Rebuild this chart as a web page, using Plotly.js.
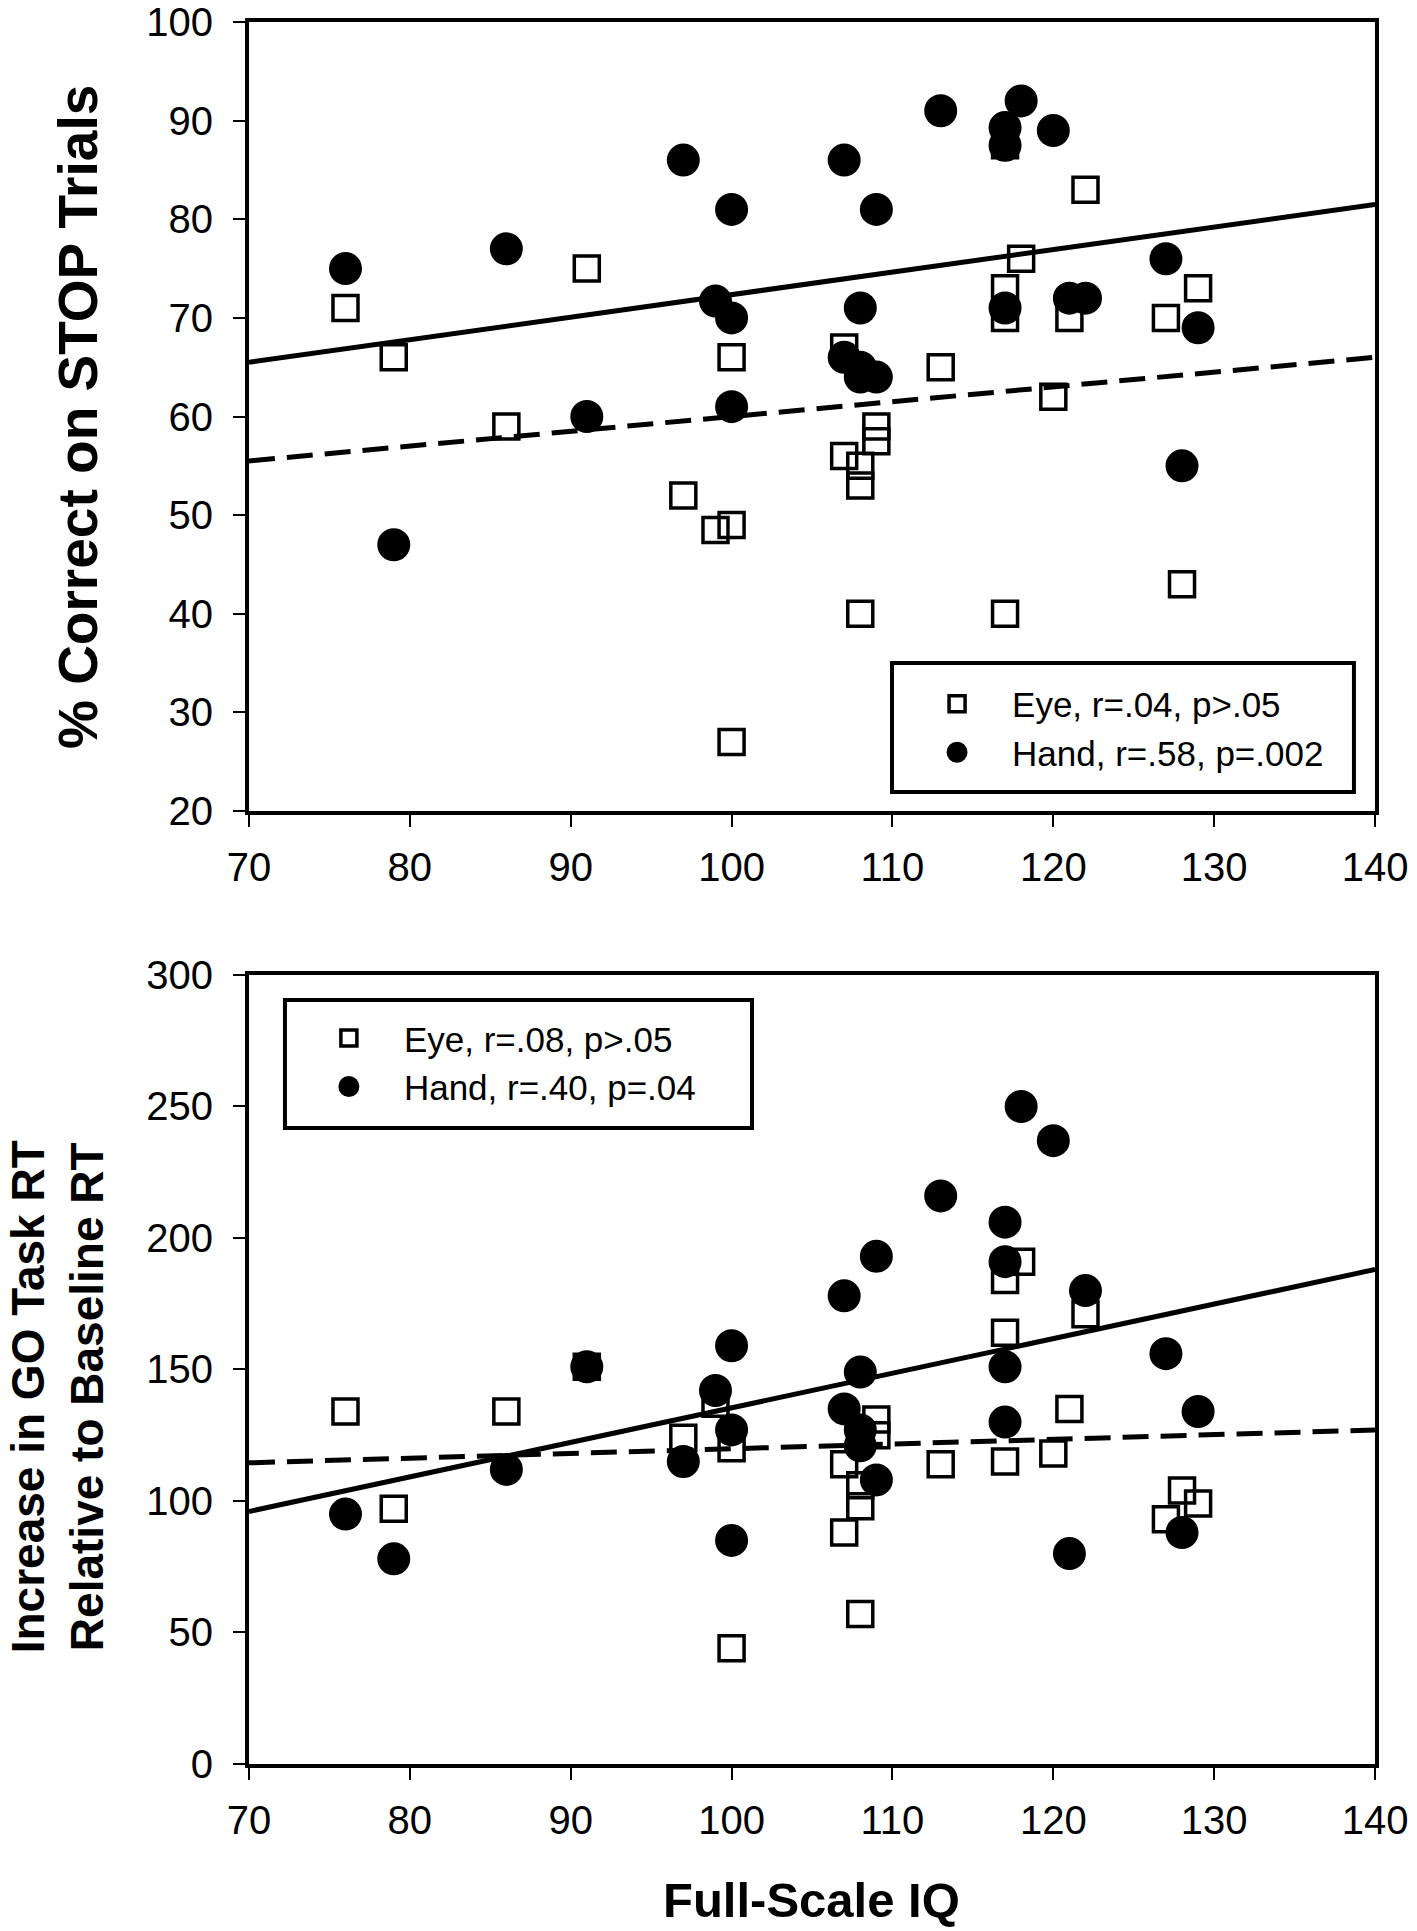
<!DOCTYPE html>
<html>
<head>
<meta charset="utf-8">
<script src="https://cdn.plot.ly/plotly-3.0.1.min.js"></script>
<style>
  body { margin: 0; background: #fff; }
  #chart { width: 1417px; height: 1931px; }
</style>
</head>
<body>
<div id="chart"></div>
<script>
// top panel: % correct on STOP trials
var eyeStopIQ = [76, 79, 86, 91, 97, 99, 100, 100, 100, 107, 107, 108, 108, 108, 109, 109, 113, 117, 117, 117, 117, 118, 120, 121, 122, 127, 128, 129];
var eyeStop = [71, 66, 59, 75, 52, 48.5, 49, 66, 27, 67, 56, 55, 53, 40, 59, 57.5, 65, 87.5, 73, 70, 40, 76, 62, 70, 83, 70, 43, 73];
var handStopIQ = [76, 79, 86, 91, 97, 99, 100, 100, 100, 107, 107, 108, 108, 108, 109, 109, 113, 117, 117, 117, 118, 120, 121, 122, 127, 128, 129];
var handStop = [75, 47, 77, 60, 86, 71.7, 81, 70, 61, 86, 66, 71, 65, 64, 81, 64, 91, 89.3, 87.5, 71, 92, 89, 72, 72, 76, 55, 69];

// bottom panel: increase in GO task RT
var eyeGoIQ = [76, 79, 86, 91, 97, 99, 100, 100, 107, 107, 108, 108, 108, 109, 109, 113, 117, 117, 117, 118, 120, 121, 122, 127, 128, 129];
var eyeGo = [134, 97, 134, 151, 124, 137, 120, 44, 114, 88, 106, 98, 57, 131, 125, 114, 184, 164, 115, 191, 118, 135, 171, 93, 104, 99];
var handGoIQ = [76, 79, 86, 91, 97, 99, 100, 100, 100, 107, 107, 108, 108, 108, 109, 109, 113, 117, 117, 117, 117, 118, 120, 121, 122, 127, 128, 129];
var handGo = [95, 78, 112, 151, 115, 142, 159, 127, 85, 178, 135, 149, 127, 121, 193, 108, 216, 206, 191, 151, 130, 250, 237, 80, 180, 156, 88, 134];

// regression lines (read at the ends of the x range)
var fitIQ = [70, 140];
var eyeStopFit = [55.5, 66];
var handStopFit = [65.5, 81.5];
var eyeGoFit = [114.5, 127];
var handGoFit = [96, 188];

var eyeStopLabel = 'Eye, r=.04, p>.05';
var handStopLabel = 'Hand, r=.58, p=.002';
var eyeGoLabel = 'Eye, r=.08, p>.05';
var handGoLabel = 'Hand, r=.40, p=.04';

var FONT = 'Liberation Sans, Arial, sans-serif';

var squareMarker = {
    symbol: 'square-open',
    size: 25,
    color: '#000',
    line: { color: '#000', width: 3.5 }
};
// thick outline so the legend symbol (size capped) stays close to the plotted dot
var circleMarker = {
    symbol: 'circle',
    size: 28,
    color: '#000',
    line: { color: '#000', width: 5 }
};

var traces = [
    { x: fitIQ, y: eyeStopFit, mode: 'lines', xaxis: 'x', yaxis: 'y', showlegend: false,
      line: { color: '#000', width: 5, dash: '26px,12px' }, hoverinfo: 'skip' },
    { x: fitIQ, y: handStopFit, mode: 'lines', xaxis: 'x', yaxis: 'y', showlegend: false,
      line: { color: '#000', width: 5 }, hoverinfo: 'skip' },
    { x: eyeStopIQ, y: eyeStop, mode: 'markers', name: eyeStopLabel, xaxis: 'x', yaxis: 'y',
      marker: squareMarker, legend: 'legend' },
    { x: handStopIQ, y: handStop, mode: 'markers', name: handStopLabel, xaxis: 'x', yaxis: 'y',
      marker: circleMarker, legend: 'legend' },

    { x: fitIQ, y: eyeGoFit, mode: 'lines', xaxis: 'x2', yaxis: 'y2', showlegend: false,
      line: { color: '#000', width: 5, dash: '26px,12px' }, hoverinfo: 'skip' },
    { x: fitIQ, y: handGoFit, mode: 'lines', xaxis: 'x2', yaxis: 'y2', showlegend: false,
      line: { color: '#000', width: 5 }, hoverinfo: 'skip' },
    { x: eyeGoIQ, y: eyeGo, mode: 'markers', name: eyeGoLabel, xaxis: 'x2', yaxis: 'y2',
      marker: squareMarker, legend: 'legend2' },
    { x: handGoIQ, y: handGo, mode: 'markers', name: handGoLabel, xaxis: 'x2', yaxis: 'y2',
      marker: circleMarker, legend: 'legend2' }
];

function xAxis(anchor) {
    return {
        domain: [0.1757, 0.9704], anchor: anchor, range: [70, 140], dtick: 10,
        showgrid: false, zeroline: false, showline: true, mirror: true,
        linecolor: '#000', linewidth: 4,
        ticks: 'outside', ticklen: 12, tickwidth: 2, tickcolor: '#000',
        ticklabelstandoff: 6,
        tickfont: { family: FONT, size: 40, color: '#000' }
    };
}
function yAxis(anchor, domain, range, dtick) {
    return {
        domain: domain, anchor: anchor, range: range, dtick: dtick,
        showgrid: false, zeroline: false, showline: true, mirror: true,
        linecolor: '#000', linewidth: 4,
        ticks: 'outside', ticklen: 12, tickwidth: 2, tickcolor: '#000',
        ticklabelstandoff: 12,
        tickfont: { family: FONT, size: 40, color: '#000' }
    };
}

var legendBase = {
    bgcolor: 'rgba(0,0,0,0)', borderwidth: 0, xanchor: 'left', yanchor: 'top',
    font: { family: FONT, size: 35, color: '#000' }, itemwidth: 100, tracegroupgap: 0
};

var layout = {
    width: 1417, height: 1931,
    margin: { l: 0, r: 0, t: 0, b: 0 },
    paper_bgcolor: '#fff', plot_bgcolor: '#fff',
    font: { family: FONT, color: '#000' },
    xaxis: xAxis('y'),
    yaxis: yAxis('x', [0.58, 0.9886], [20, 100], 10),
    xaxis2: xAxis('y2'),
    yaxis2: yAxis('x2', [0.0865, 0.4951], [0, 300], 50),
    legend: Object.assign({}, legendBase, { x: 0.6366, y: 0.6507 }),
    legend2: Object.assign({}, legendBase, { x: 0.2074, y: 0.4776 }),
    shapes: [
        { type: 'rect', xref: 'paper', yref: 'paper', x0: 0.6295, x1: 0.9555, y0: 0.5899, y1: 0.6567,
          line: { color: '#000', width: 4 }, fillcolor: 'rgba(0,0,0,0)' },
        { type: 'rect', xref: 'paper', yref: 'paper', x0: 0.2011, x1: 0.5307, y0: 0.4159, y1: 0.4821,
          line: { color: '#000', width: 4 }, fillcolor: 'rgba(0,0,0,0)' }
    ],
    annotations: [
        { text: '<b>% Correct on STOP Trials</b>', xref: 'paper', yref: 'paper',
          x: 0.055, y: 0.784, xanchor: 'center', yanchor: 'middle', textangle: -90, showarrow: false,
          font: { family: FONT, size: 55, color: '#000' } },
        { text: '<b>Increase in GO Task RT<br>Relative to Baseline RT</b>', xref: 'paper', yref: 'paper',
          x: 0.0405, y: 0.2766, xanchor: 'center', yanchor: 'middle', textangle: -90, showarrow: false,
          font: { family: FONT, size: 46, color: '#000' } },
        { text: '<b>Full-Scale IQ</b>', xref: 'paper', yref: 'paper',
          x: 0.573, y: 0.016, xanchor: 'center', yanchor: 'middle', showarrow: false,
          font: { family: FONT, size: 49, color: '#000' } }
    ]
};

Plotly.newPlot('chart', traces, layout, { staticPlot: true });
</script>
</body>
</html>
